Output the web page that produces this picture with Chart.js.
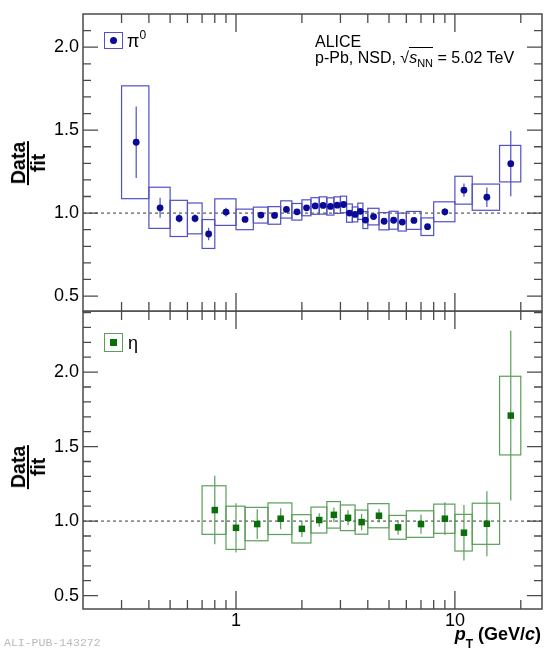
<!DOCTYPE html>
<html><head><meta charset="utf-8">
<script src="https://cdn.jsdelivr.net/npm/chart.js@4.4.1/dist/chart.umd.min.js"></script>
<style>
body{margin:0;background:#fff;width:553px;height:650px;overflow:hidden;position:relative;font-family:'Liberation Sans',Arial,sans-serif;}
#top{position:absolute;left:0;top:0;width:553px;height:312px;}
#bot{position:absolute;left:0;top:311px;width:553px;height:339px;}
.txt{position:absolute;color:#000;white-space:nowrap;z-index:5;}
.ytitle{position:absolute;z-index:5;transform:translate(-50%,-50%) rotate(-90deg);font:bold 19.5px 'Liberation Sans',Arial,sans-serif;}
.frac{display:flex;flex-direction:column;align-items:center;line-height:16px;}
.num{border-bottom:2px solid #000;padding:0 1px 1px 1px;}
.den{padding-top:1px;}
.lbox{position:absolute;z-index:5;box-sizing:border-box;}
.mk{position:absolute;}
sub,sup{line-height:0;}
</style></head><body>
<div id="top"><canvas id="c1"></canvas></div>
<div id="bot"><canvas id="c2"></canvas></div>

<div class="ytitle" style="left:28px;top:163px"><div class="frac"><span class="num">Data</span><span class="den">fit</span></div></div>
<div class="ytitle" style="left:28px;top:467px"><div class="frac"><span class="num">Data</span><span class="den">fit</span></div></div>

<div class="lbox" style="left:104px;top:32px;width:19px;height:17px;border:1.3px solid #5050c8;"><div class="mk" style="left:4.5px;top:3.8px;width:7px;height:7px;border-radius:50%;background:#0a0a96;"></div></div>
<div class="txt" style="left:127px;top:31px;font-size:18px;line-height:20px;">π<sup style="font-size:12px;position:relative;top:-1px">0</sup></div>

<div class="lbox" style="left:104px;top:333px;width:19px;height:19px;border:1.3px solid #5a9e5a;"><div class="mk" style="left:5px;top:5px;width:6.5px;height:6.5px;background:#0a6e0a;"></div></div>
<div class="txt" style="left:128px;top:333px;font-size:18px;line-height:20px;">η</div>

<div class="txt" style="left:315px;top:34px;font-size:16px;line-height:16px;">ALICE<br>p-Pb, NSD, √<span style="border-top:1.2px solid #000;padding-top:1px;"><i>s</i><sub style="font-size:11px">NN</sub></span> = 5.02 TeV</div>

<div class="txt" style="right:12px;top:624px;font:bold 18px 'Liberation Sans',Arial,sans-serif;line-height:20px;"><i>p</i><sub style="font-size:12px;position:relative;top:3px">T</sub> (GeV/<i>c</i>)</div>

<div class="txt" style="left:4px;top:636px;font:11.5px 'Liberation Mono',monospace;color:#bbb;">ALI-PUB-143272</div>

<script>
// ---- data ----
const xMin = 0.2, xMax = 25;
const xLabelValues = [1, 10];
const xTickValues = [0.3,0.4,0.5,0.6,0.7,0.8,0.9,1,2,3,4,5,6,7,8,9,10,20];
const xMajorValues = [1, 10];
const yLabelValues = [0.5, 1.0, 1.5, 2.0];

const pi0Edges = [0.3,0.4,0.5,0.6,0.7,0.8,1.0,1.2,1.4,1.6,1.8,2.0,2.2,2.4,2.6,2.8,3.0,3.2,3.4,3.6,3.8,4.0,4.5,5.0,5.5,6.0,7.0,8.0,10,12,16,20];
const pi0Pt    = [0.35,0.45,0.55,0.65,0.75,0.9,1.1,1.3,1.5,1.7,1.9,2.1,2.3,2.5,2.7,2.9,3.1,3.3,3.5,3.7,3.9,4.25,4.75,5.25,5.75,6.5,7.5,9,11,14,18];
const pi0Val   = [1.427,1.032,0.968,0.968,0.874,1.006,0.962,0.988,0.986,1.022,1.008,1.032,1.043,1.046,1.040,1.048,1.052,1.000,0.992,1.011,0.958,0.979,0.951,0.957,0.946,0.956,0.918,1.008,1.138,1.096,1.298];
const pi0Stat  = [0.215,0.060,0.025,0.025,0.037,0.027,0.015,0.012,0.012,0.012,0.012,0.012,0.012,0.012,0.012,0.012,0.012,0.012,0.012,0.012,0.012,0.012,0.012,0.012,0.012,0.014,0.016,0.022,0.040,0.059,0.197];
const pi0Sys   = [0.340,0.124,0.109,0.093,0.087,0.080,0.062,0.048,0.053,0.052,0.050,0.048,0.050,0.052,0.052,0.050,0.050,0.055,0.045,0.049,0.051,0.050,0.052,0.054,0.054,0.054,0.053,0.060,0.084,0.079,0.110];

const etaEdges = [0.7,0.9,1.1,1.4,1.8,2.2,2.6,3.0,3.5,4.0,5.0,6.0,8.0,10,12,16,20];
const etaPt    = [0.8,1.0,1.25,1.6,2.0,2.4,2.8,3.25,3.75,4.5,5.5,7,9,11,14,18];
const etaVal   = [1.074,0.955,0.980,1.016,0.948,1.007,1.042,1.022,0.993,1.036,0.958,0.980,1.016,0.922,0.982,1.708];
const etaStat  = [0.230,0.165,0.100,0.070,0.055,0.045,0.050,0.050,0.055,0.045,0.050,0.065,0.110,0.186,0.218,0.570];
const etaSys   = [0.163,0.145,0.112,0.106,0.095,0.087,0.089,0.086,0.081,0.081,0.080,0.089,0.098,0.123,0.138,0.264];

// ---- plugins ----
function makeErrPlugin(spec){
  return { id:'sysStat', beforeDatasetsDraw(chart){
    const {ctx, scales:{x,y}} = chart;
    ctx.save();
    ctx.strokeStyle = spec.boxColor; ctx.lineWidth = 1.2;
    spec.pt.forEach((p,i)=>{
      const x0 = x.getPixelForValue(spec.edges[i]), x1 = x.getPixelForValue(spec.edges[i+1]);
      const yt = y.getPixelForValue(spec.val[i]+spec.sys[i]), yb = y.getPixelForValue(spec.val[i]-spec.sys[i]);
      ctx.strokeRect(x0, yt, x1-x0, yb-yt);
      const xc = x.getPixelForValue(p);
      ctx.beginPath();
      ctx.moveTo(xc, y.getPixelForValue(spec.val[i]+spec.stat[i]));
      ctx.lineTo(xc, y.getPixelForValue(spec.val[i]-spec.stat[i]));
      ctx.stroke();
    });
    ctx.restore();
  }};
}
function makeFramePlugin(yMax){
  return { id:'frame', afterDraw(chart){
    const {ctx, chartArea:a, scales:{x,y}} = chart;
    ctx.save(); ctx.strokeStyle='#4a4a4a'; ctx.lineWidth=1.3;
    ctx.beginPath();
    xTickValues.forEach(v=>{
      const px = x.getPixelForValue(v);
      const L = xMajorValues.includes(v) ? 18 : 9;
      ctx.moveTo(px, a.bottom); ctx.lineTo(px, a.bottom-L);
      ctx.moveTo(px, a.top); ctx.lineTo(px, a.top+L);
    });
    for (let k=5; k/10 <= yMax-0.005; k++){
      const py = y.getPixelForValue(k/10);
      const L = (k%5===0) ? 15 : 8;
      ctx.moveTo(a.left, py); ctx.lineTo(a.left+L, py);
      ctx.moveTo(a.right, py); ctx.lineTo(a.right-L, py);
    }
    ctx.stroke();
    ctx.lineWidth=1.5;
    ctx.strokeRect(a.left, a.top, a.right-a.left, a.bottom-a.top);
    ctx.restore();
  }};
}

function makeChart(id, spec){
  return new Chart(document.getElementById(id), {
    type:'scatter',
    data:{ datasets:[
      { type:'line', data:[{x:xMin,y:1},{x:xMax,y:1}], borderColor:'#666', borderDash:[3,3], borderWidth:1.3, pointRadius:0, order:2 },
      { data: spec.pt.map((p,i)=>({x:p, y:spec.val[i]})), pointStyle:spec.style, radius:spec.r, backgroundColor:spec.mColor, borderColor:spec.mColor, borderWidth:0, order:1 }
    ]},
    options:{
      responsive:true, maintainAspectRatio:false, animation:false, events:[],
      layout:{ padding: spec.padding, autoPadding:false },
      plugins:{ legend:{display:false}, tooltip:{enabled:false} },
      scales:{
        x:{ type:'logarithmic', min:xMin, max:xMax, display:spec.showX,
            grid:{display:false, drawTicks:false}, border:{display:false},
            afterBuildTicks: s => { s.ticks = xLabelValues.map(v=>({value:v})); },
            ticks:{ autoSkip:false, maxRotation:0, padding:1, color:'#000', font:{family:"'Liberation Sans', Arial, sans-serif", size:18}, callback: v => String(v) },
            afterFit: s => { s.paddingLeft=0; s.paddingRight=0; if (spec.showX) s.height = 41; } },
        y:{ min:spec.yMin, max:spec.yMax,
            grid:{display:false, drawTicks:false}, border:{display:false},
            afterBuildTicks: s => { s.ticks = yLabelValues.map(v=>({value:v})); },
            ticks:{ padding:4, color:'#000', font:{family:"'Liberation Sans', Arial, sans-serif", size:18}, callback: v => Number(v).toFixed(1) },
            afterFit: s => { s.width = 83; s.paddingTop=0; s.paddingBottom=0; } }
      }
    },
    plugins:[ makeErrPlugin(spec), makeFramePlugin(spec.yMax) ]
  });
}

makeChart('c1', { pt:pi0Pt, edges:pi0Edges, val:pi0Val, stat:pi0Stat, sys:pi0Sys,
  style:'circle', r:3.4, mColor:'#0a0a96', boxColor:'#5050c8',
  yMin:0.41, yMax:2.2, showX:false, padding:{left:0,right:11,top:14,bottom:1} });
makeChart('c2', { pt:etaPt, edges:etaEdges, val:etaVal, stat:etaStat, sys:etaSys,
  style:'rect', r:4.6, mColor:'#0a6e0a', boxColor:'#5a9e5a',
  yMin:0.41, yMax:2.41, showX:true, padding:{left:0,right:11,top:0,bottom:0} });
</script>
</body></html>
